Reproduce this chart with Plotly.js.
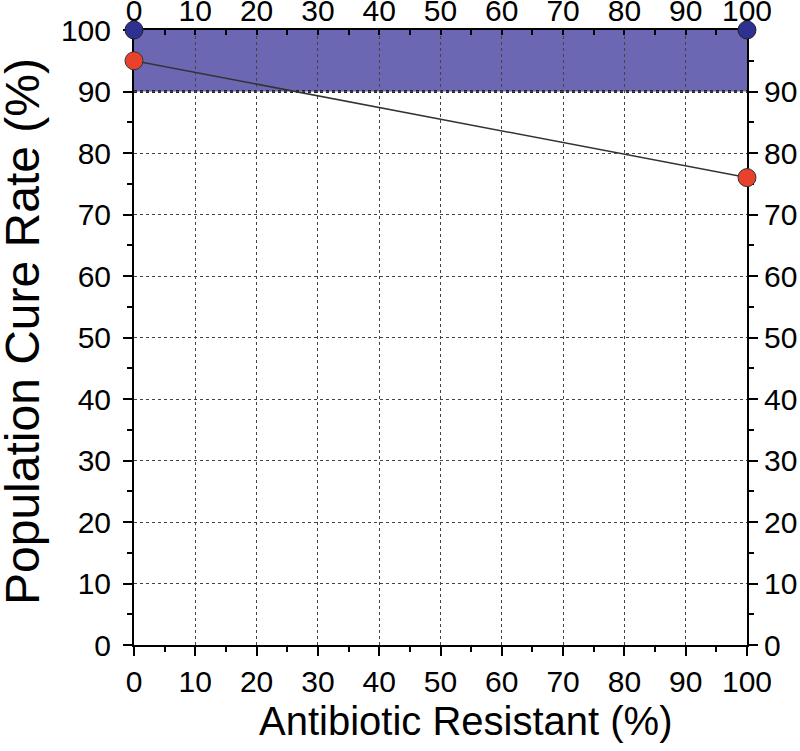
<!DOCTYPE html>
<html>
<head>
<meta charset="utf-8">
<script src="https://cdn.plot.ly/plotly-3.0.1.min.js"></script>
<style>html,body{margin:0;padding:0;background:#fff;}#chart{width:800px;height:751px;}</style>
</head>
<body>
<div id="chart"></div>
<script>
// Data
var resistantX = [0, 100];
var cureRate = [95, 76];
var targetX = [0, 100];
var targetY = [100, 100];
var bandLow = 90;
var bandHigh = 100;
var tickVals = [0, 10, 20, 30, 40, 50, 60, 70, 80, 90, 100];
var rightTickVals = [0, 10, 20, 30, 40, 50, 60, 70, 80, 90];
var xTitle = 'Antibiotic Resistant (%)';
var yTitle = 'Population Cure Rate (%)';

var FONT = 'Liberation Sans, Arial, sans-serif';
var tickFont = {family: FONT, size: 30, color: '#000'};

var traces = [
  {
    x: resistantX, y: cureRate, type: 'scatter', mode: 'lines+markers',
    line: {color: '#333', width: 1.5},
    marker: {size: 18, color: '#e8412c', line: {color: '#333', width: 1}},
    cliponaxis: false, showlegend: false, hoverinfo: 'x+y'
  },
  {
    x: targetX, y: targetY, type: 'scatter', mode: 'markers',
    marker: {size: 18, color: '#2e3192', line: {color: '#222', width: 1}},
    cliponaxis: false, showlegend: false
  }
];

var commonAxis = {
  range: [0, 100], showline: true, linecolor: '#000', linewidth: 2,
  tickcolor: '#000', tickwidth: 2, mirror: false, zeroline: false,
  tickfont: tickFont, layer: 'below traces', fixedrange: true
};
var minorOut = {dtick: 5, tick0: 0, ticks: 'outside', ticklen: 5, tickcolor: '#000', tickwidth: 2, showgrid: false};
var minorIn = {dtick: 5, tick0: 0, ticks: 'inside', ticklen: 5, tickcolor: '#000', tickwidth: 2, showgrid: false};

var layout = {
  width: 800, height: 751,
  margin: {l: 134, r: 53, t: 30, b: 106},
  paper_bgcolor: '#fff', plot_bgcolor: '#fff',
  showlegend: false,
  xaxis: Object.assign({}, commonAxis, {
    tickvals: tickVals, ticks: 'outside', ticklen: 9, minor: minorOut,
    showgrid: true, gridcolor: '#444', griddash: 'dot', gridwidth: 1
  }),
  yaxis: Object.assign({}, commonAxis, {
    tickvals: tickVals, ticks: 'outside', ticklen: 9, minor: minorOut, ticklabelstandoff: 6,
    showgrid: true, gridcolor: '#444', griddash: 'dot', gridwidth: 1
  }),
  xaxis2: Object.assign({}, commonAxis, {
    overlaying: 'x', side: 'top', anchor: 'y',
    tickvals: tickVals, ticks: 'inside', ticklen: 5, minor: minorIn, ticklabelstandoff: -5,
    showgrid: false
  }),
  yaxis2: Object.assign({}, commonAxis, {
    overlaying: 'y', side: 'right', anchor: 'x',
    tickvals: rightTickVals, ticks: 'outside', ticklen: 9, minor: minorOut, ticklabelstandoff: 0,
    showgrid: false
  }),
  annotations: [
    {text: xTitle, xref: 'paper', yref: 'paper', x: 0.5, y: 0, xanchor: 'center', yanchor: 'middle',
     showarrow: false, font: {family: FONT, size: 40, color: '#000'}},
    {text: yTitle, xref: 'paper', yref: 'paper', x: 0, y: 0.5, xanchor: 'center', yanchor: 'middle',
     textangle: -90, showarrow: false, font: {family: FONT, size: 48, color: '#000'}}
  ],
  shapes: [
    {type: 'rect', xref: 'x', yref: 'y', x0: resistantX[0], x1: resistantX[1], y0: bandLow, y1: bandHigh,
     fillcolor: '#6c67b3', line: {width: 0}, layer: 'below'},
    {type: 'line', xref: 'x', yref: 'y', x0: resistantX[0], x1: resistantX[1], y0: bandLow, y1: bandLow,
     line: {color: '#222', width: 3, dash: 'dot'}, layer: 'below'}
  ]
};
// place titles in pixel terms: plot area x 134..747 (613px), y 30..645 (615px)
layout.annotations[0].x = (465 - 134) / 613;
layout.annotations[0].y = (645 - 721) / 615;
layout.annotations[1].x = (22 - 134) / 613;
layout.annotations[1].y = (645 - 332) / 615;

// dummy traces to activate secondary axes
traces.push({x: [0, 100], y: [0, 0], xaxis: 'x2', yaxis: 'y', mode: 'none', type: 'scatter', showlegend: false, hoverinfo: 'skip'});
traces.push({x: [0, 0], y: [0, 100], xaxis: 'x', yaxis: 'y2', mode: 'none', type: 'scatter', showlegend: false, hoverinfo: 'skip'});

Plotly.newPlot('chart', traces, layout, {displayModeBar: false, staticPlot: true});
</script>
</body>
</html>
